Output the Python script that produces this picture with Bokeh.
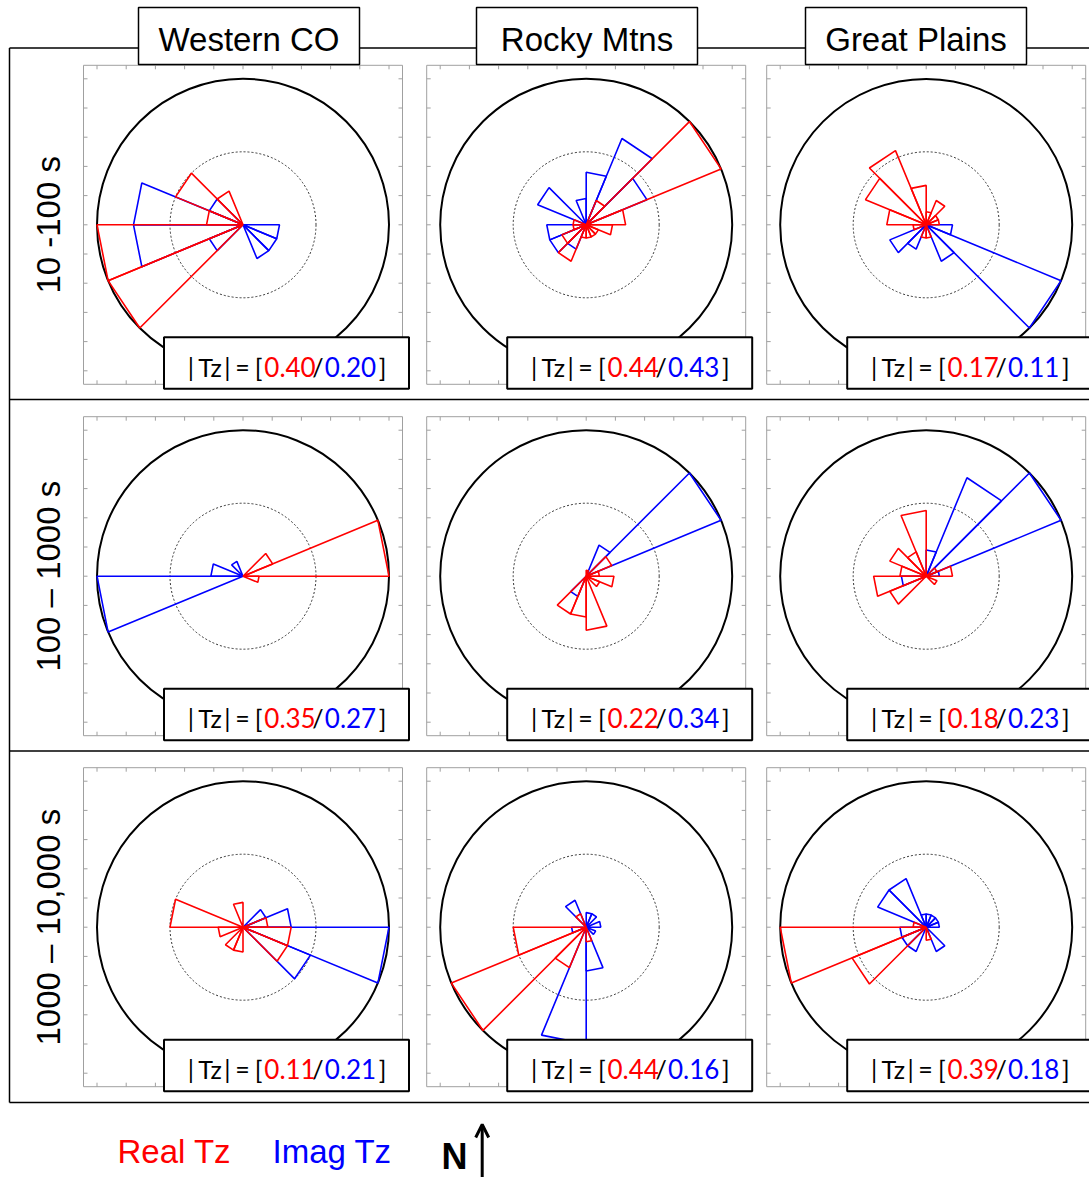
import numpy as np
from bokeh.plotting import figure
from bokeh.models import Range1d, Label, Arrow, OpenHead
from bokeh.embed import file_html
from bokeh.resources import INLINE

# ---------------------------------------------------------------------------
# Data: rose-diagram bin lengths (fraction of the outer ring) for the real and
# imaginary tipper (Tz) azimuths.  Bin k spans [22.5*k, 22.5*(k+1)] degrees,
# measured anticlockwise from east (north is up).
# ---------------------------------------------------------------------------
REGIONS = ["Western CO", "Rocky Mtns", "Great Plains"]
PERIOD_BANDS = ["10 -100 s", "100 \u2013 1000 s", "1000 \u2013 10,000 s"]
BIN_WIDTH_DEG = 22.5

# 10 - 100 s
real_wco_short = [0, 0, 0, 0, 0, .25, .50, .25, 1.0, 1.0, 0, 0, 0, 0, 0, 0]
imag_wco_short = [0, 0, 0, 0, 0, 0, .25, .75, .75, .25, 0, 0, 0, .25, .25, .25]
real_rm_short = [.27, 1.0, .18, 0, 0, 0, 0, .09, .09, .18, .27, .09, .09, .09, .09, .18]
imag_rm_short = [0, .45, .64, .36, .18, 0, .36, 0, .27, .27, .18, 0, 0, 0, 0, 0]
real_gp_short = [.09, .09, .18, .09, .27, .55, .45, .27, .09, 0, 0, .09, .09, 0, 0, 0]
imag_gp_short = [0, 0, 0, 0, 0, 0, 0, 0, 0, .27, .18, 0, 0, .27, 1.0, .18]

# 100 - 1000 s
real_wco_mid = [1.0, .22, 0, 0, 0, 0, 0, 0, 0, 0, 0, 0, 0, 0, 0, .11]
imag_wco_mid = [0, 0, 0, 0, 0, .11, 0, .22, 1.0, 0, 0, 0, 0, 0, 0, 0]
real_rm_mid = [.09, .19, 0, .04, 0, 0, 0, 0, 0, 0, .28, .28, .37, 0, .10, .19]
imag_rm_mid = [0, 1.0, .23, 0, 0, 0, 0, 0, 0, 0, .15, 0, 0, 0, 0, 0]
real_gp_mid = [.18, .08, 0, 0, .45, .18, .27, .18, .36, .27, 0, 0, 0, 0, .08, 0]
imag_gp_mid = [.09, 1.0, .73, .18, 0, 0, 0, 0, .17, 0, 0, 0, 0, 0, 0, 0]

# 1000 - 10,000 s
real_wco_long = [.17, 0, 0, 0, .17, 0, 0, .50, .17, 0, .17, .17, 0, 0, .33, .33]
imag_wco_long = [.33, .17, 0, 0, 0, 0, 0, 0, 0, 0, 0, 0, 0, 0, .50, 1.0]
real_rm_long = [0, 0, 0, 0, 0, .10, 0, 0, .50, 1.0, .30, 0, .10, 0, 0, 0]
imag_rm_long = [.10, 0, .10, .10, 0, .20, 0, 0, .10, 0, 0, .80, .30, 0, .07, 0]
real_gp_long = [0, 0, 0, 0, 0, 0, 0, .09, 1.0, .55, 0, 0, .09, 0, 0, 0]
imag_gp_long = [.09, .09, .09, .09, .09, .36, .36, 0, .18, .18, .18, 0, 0, .18, 0, 0]

REAL_BINS = [[real_wco_short, real_rm_short, real_gp_short],
             [real_wco_mid, real_rm_mid, real_gp_mid],
             [real_wco_long, real_rm_long, real_gp_long]]
IMAG_BINS = [[imag_wco_short, imag_rm_short, imag_gp_short],
             [imag_wco_mid, imag_rm_mid, imag_gp_mid],
             [imag_wco_long, imag_rm_long, imag_gp_long]]

# mean |Tz| per region and period band
tz_real = [[0.40, 0.44, 0.17], [0.35, 0.22, 0.18], [0.11, 0.44, 0.39]]
tz_imag = [[0.20, 0.43, 0.11], [0.27, 0.34, 0.23], [0.21, 0.16, 0.18]]

# ---------------------------------------------------------------------------
# Layout (page pixels, y grows downward)
# ---------------------------------------------------------------------------
W, H = 1089, 1177
COL_CX = [242.5, 585.7, 925.7]
ROW_CY = [224.3, 575.7, 926.7]
RING_PX = 146.0          # radius of the outer ring
BOX_HALF = 159.5         # half size of each polar axes box
TICK_STEP = RING_PX / 5
TICK_LEN = 4
ROW_LINES = [47.5, 399.0, 750.5, 1102.0]
FRAME_LEFT = 9.0
TITLE_BOXES = [(138, 359), (476, 697), (805, 1026)]
RED, BLUE = "#ff0000", "#0000ff"
SANS = "Liberation Sans"
VAL_FONT = "Lato"

p = figure(width=W, height=H, x_range=Range1d(0, W), y_range=Range1d(H, 0),
           x_axis_type=None, y_axis_type=None, min_border=0,
           toolbar_location=None, output_backend="svg",
           background_fill_color="white", border_fill_color="white",
           outline_line_color=None)
p.grid.visible = False

# outer frame of the panel grid
p.segment(x0=[FRAME_LEFT] * 4, x1=[W + 5] * 4, y0=ROW_LINES, y1=ROW_LINES,
          line_color="black", line_width=1.5)
p.segment(x0=[FRAME_LEFT], x1=[FRAME_LEFT], y0=[ROW_LINES[0]], y1=[ROW_LINES[-1]],
          line_color="black", line_width=1.5)


def petal_paths(lengths, cx, cy):
    xs, ys = [], []
    for k, v in enumerate(lengths):
        if v <= 0:
            continue
        a1 = np.deg2rad(k * BIN_WIDTH_DEG)
        a2 = np.deg2rad((k + 1) * BIN_WIDTH_DEG)
        r = v * RING_PX
        xs.append([cx, cx + r * np.cos(a1), cx + r * np.cos(a2), cx])
        ys.append([cy, cy - r * np.sin(a1), cy - r * np.sin(a2), cy])
    return xs, ys


def text(x, y, s, size, color="black", align="center", font=SANS, style="normal"):
    p.add_layout(Label(x=x, y=y, text=s, text_align=align, text_baseline="middle",
                       text_color=color, text_font=font, text_font_size=size,
                       text_font_style=style))


for i, cy in enumerate(ROW_CY):
    for j, cx in enumerate(COL_CX):
        # polar axes box with inward ticks
        p.quad(left=[cx - BOX_HALF], right=[cx + BOX_HALF], top=[cy - BOX_HALF],
               bottom=[cy + BOX_HALF], fill_color=None, line_color="#a0a0a0", line_width=1)
        offs = np.arange(-5, 6) * TICK_STEP
        tx0, tx1, ty0, ty1 = [], [], [], []
        for o in offs:
            tx0 += [cx + o, cx + o]; tx1 += [cx + o, cx + o]
            ty0 += [cy - BOX_HALF, cy + BOX_HALF]
            ty1 += [cy - BOX_HALF + TICK_LEN, cy + BOX_HALF - TICK_LEN]
            tx0 += [cx - BOX_HALF, cx + BOX_HALF]
            tx1 += [cx - BOX_HALF + TICK_LEN, cx + BOX_HALF - TICK_LEN]
            ty0 += [cy + o, cy + o]; ty1 += [cy + o, cy + o]
        p.segment(x0=tx0, x1=tx1, y0=ty0, y1=ty1, line_color="#a0a0a0", line_width=1)

        # rings
        p.circle(x=[cx], y=[cy], radius=RING_PX, fill_color=None,
                 line_color="black", line_width=2)
        p.circle(x=[cx], y=[cy], radius=RING_PX / 2, fill_color=None,
                 line_color="#333333", line_width=1, line_dash="2 2")

        # rose petals: imaginary first, real on top
        bx, by = petal_paths(IMAG_BINS[i][j], cx, cy)
        p.multi_line(xs=bx, ys=by, line_color=BLUE, line_width=1.6)
        rx, ry = petal_paths(REAL_BINS[i][j], cx, cy)
        p.multi_line(xs=rx, ys=ry, line_color=RED, line_width=1.6)

        # |Tz| summary box
        p.quad(left=[cx - 79], right=[cx + 166], top=[cy + 112.5], bottom=[cy + 164],
               fill_color="white", line_color="black", line_width=2)
        mid = cy + 142
        fs, vs = "25px", "26px"
        text(cx - 52, mid, "|", fs, font=VAL_FONT)
        text(cx - 33, mid, "Tz", fs, font=VAL_FONT)
        text(cx - 15.5, mid, "|", fs, font=VAL_FONT)
        text(cx - 0.6, mid, "=", fs, font=VAL_FONT)
        text(cx + 15.5, mid, "[", fs, font=VAL_FONT)
        text(cx + 47, mid, f"{tz_real[i][j]:.2f}", vs, color=RED, font=VAL_FONT)
        text(cx + 75, mid, "/", fs, font=VAL_FONT)
        text(cx + 107.5, mid, f"{tz_imag[i][j]:.2f}", vs, color=BLUE, font=VAL_FONT)
        text(cx + 139.5, mid, "]", fs, font=VAL_FONT)

# column titles
for (l, r), name in zip(TITLE_BOXES, REGIONS):
    p.quad(left=[l], right=[r], top=[7], bottom=[64], fill_color="white",
           line_color="black", line_width=1.5)
    text((l + r) / 2, 38.7, name, "33px")

# period-band labels
for cy, band in zip(ROW_CY, PERIOD_BANDS):
    p.add_layout(Label(x=48, y=cy, text=band, angle=90, angle_units="deg",
                       text_align="center", text_baseline="middle", text_font=SANS,
                       text_font_size="33px", text_color="black"))

# key
text(117, 1150.8, "Real Tz", "33px", color=RED, align="left")
text(272, 1150.8, "Imag Tz", "33px", color=BLUE, align="left")
text(441, 1156, "N", "36px", align="left", style="bold")
p.add_layout(Arrow(end=OpenHead(size=13, line_width=3, line_color="black"),
                   x_start=481.7, y_start=1180, x_end=481.7, y_end=1124,
                   line_width=3, line_color="black"))

open("out.html", "w").write(file_html(p, INLINE))
